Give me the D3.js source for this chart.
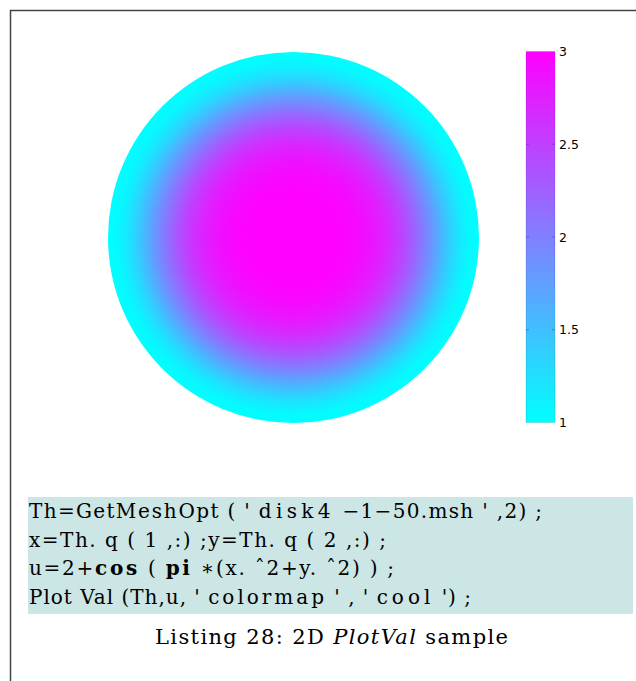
<!DOCTYPE html>
<html>
<head>
<meta charset="utf-8">
<script src="https://cdn.jsdelivr.net/npm/d3@7"></script>
<style>
  body { margin: 0; background: #fff; }
  svg { display: block; }
</style>
</head>
<body>
<div id="chart"></div>
<script>
// radial samples of u = 2 + cos(pi*(x^2+y^2)) on the unit disk
const radii   = [0, 0.05, 0.1, 0.15, 0.2, 0.25, 0.3, 0.35, 0.4, 0.45, 0.5, 0.55, 0.6, 0.65, 0.7, 0.75, 0.8, 0.85, 0.9, 0.95, 1];
const uValues = [3, 3.0, 2.9995, 2.9975, 2.992, 2.981, 2.960, 2.927, 2.876, 2.804, 2.707, 2.581, 2.426, 2.241, 2.031, 1.805, 1.574, 1.356, 1.173, 1.047, 1];
const colorTicks = [1, 1.5, 2, 2.5, 3];
const colorDomain = [1, 3];

// listing text; ls = extra letter spacing, b = bold
const codeLines = [
  [{t: "Th=Get"}, {t: "Mesh", ls: 0.5}, {t: "Opt ( ' "}, {t: "disk4", ls: 3}, {t: " \u22121\u221250.msh ' ,2) ;"}],
  [{t: "x=Th. q ( 1 ,:) ;y=Th. q ( 2 ,:) ;"}],
  [{t: "u=2+"}, {t: "cos", b: true, ls: 1}, {t: " ( "}, {t: "pi", b: true, ls: 1}, {t: " \u2217(x. \u02c62+y. \u02c62) ) ;"}],
  [{t: "Plot Val (Th,u, ' "}, {t: "colormap", ls: 2}, {t: " ' , ' "}, {t: "cool", ls: 3}, {t: " ') ;"}]
];
const codeWidths = [513, 357, 365, 442];

const width = 636, height = 681;

const svg = d3.select("#chart").append("svg")
    .attr("width", width)
    .attr("height", height);

const defs = svg.append("defs");

// cool colormap: cyan -> magenta
const cool = d3.scaleLinear().domain(colorDomain).range(["#00ffff", "#ff00ff"]);

// page frame
svg.append("path")
    .attr("d", `M10.5,${height} V10.5 H${width}`)
    .attr("fill", "none")
    .attr("stroke", "#444")
    .attr("stroke-width", 1.5);

// disk
const cx = 293.5, cy = 237.5, R = 185.5;
const rScale = d3.scaleLinear().domain([0, 1]).range([0, 100]);

const rg = defs.append("radialGradient")
    .attr("id", "diskGrad")
    .attr("cx", "50%").attr("cy", "50%").attr("r", "50%");
rg.selectAll("stop")
  .data(radii)
  .join("stop")
    .attr("offset", d => rScale(d) + "%")
    .attr("stop-color", (d, i) => cool(uValues[i]));

svg.append("circle")
    .attr("cx", cx).attr("cy", cy).attr("r", R)
    .attr("fill", "url(#diskGrad)");

// colorbar
const barX = 526, barW = 29, barTop = 51.5, barBottom = 422.5;
const yBar = d3.scaleLinear().domain(colorDomain).range([barBottom, barTop]);

const lg = defs.append("linearGradient")
    .attr("id", "barGrad")
    .attr("x1", 0).attr("y1", 1).attr("x2", 0).attr("y2", 0);
lg.selectAll("stop")
  .data(colorTicks)
  .join("stop")
    .attr("offset", d => ((d - 1) / 2 * 100) + "%")
    .attr("stop-color", d => cool(d));

svg.append("rect")
    .attr("x", barX).attr("y", barTop)
    .attr("width", barW).attr("height", barBottom - barTop)
    .attr("fill", "url(#barGrad)")
    .attr("stroke", "rgba(0,0,0,0.2)")
    .attr("stroke-width", 0.6);

// inner tick marks on both edges
const tk = svg.append("g").attr("stroke", "rgba(40,40,80,0.45)").attr("stroke-width", 0.8);
colorTicks.slice(1, -1).forEach(v => {
  tk.append("line").attr("x1", barX).attr("x2", barX + 3).attr("y1", yBar(v)).attr("y2", yBar(v));
  tk.append("line").attr("x1", barX + barW - 3).attr("x2", barX + barW).attr("y1", yBar(v)).attr("y2", yBar(v));
});

const axis = d3.axisRight(yBar)
    .tickValues(colorTicks)
    .tickFormat(d3.format("~g"))
    .tickSize(0)
    .tickPadding(4);

svg.append("g")
    .attr("transform", `translate(${barX + barW},0)`)
    .call(axis)
    .call(g => g.select(".domain").remove())
    .call(g => g.selectAll("text")
        .attr("font-family", "DejaVu Sans, sans-serif")
        .attr("font-size", 12.5)
        .attr("fill", "#000"));

// listing block
svg.append("rect")
    .attr("x", 28).attr("y", 497)
    .attr("width", 605).attr("height", 117)
    .attr("fill", "#cce5e5");

const code = svg.append("g")
    .attr("font-family", "DejaVu Serif, serif")
    .attr("font-size", 20)
    .attr("fill", "#000");

codeLines.forEach((parts, i) => {
  const t = code.append("text")
      .attr("x", 29)
      .attr("y", 518 + i * 28.5)
      .attr("textLength", codeWidths[i])
      .attr("lengthAdjust", "spacing")
      .style("white-space", "pre");
  parts.forEach(p => {
    t.append("tspan")
        .attr("font-weight", p.b ? "bold" : null)
        .attr("letter-spacing", p.ls || null)
        .text(p.t);
  });
});

// caption
const cap = svg.append("text")
    .attr("x", 155).attr("y", 644)
    .attr("textLength", 353)
    .attr("lengthAdjust", "spacing")
    .attr("font-family", "DejaVu Serif, serif")
    .attr("font-size", 21)
    .attr("fill", "#000");
cap.append("tspan").text("Listing 28: 2D ");
cap.append("tspan").attr("font-style", "italic").text("PlotVal");
cap.append("tspan").text(" sample");
</script>
</body>
</html>
